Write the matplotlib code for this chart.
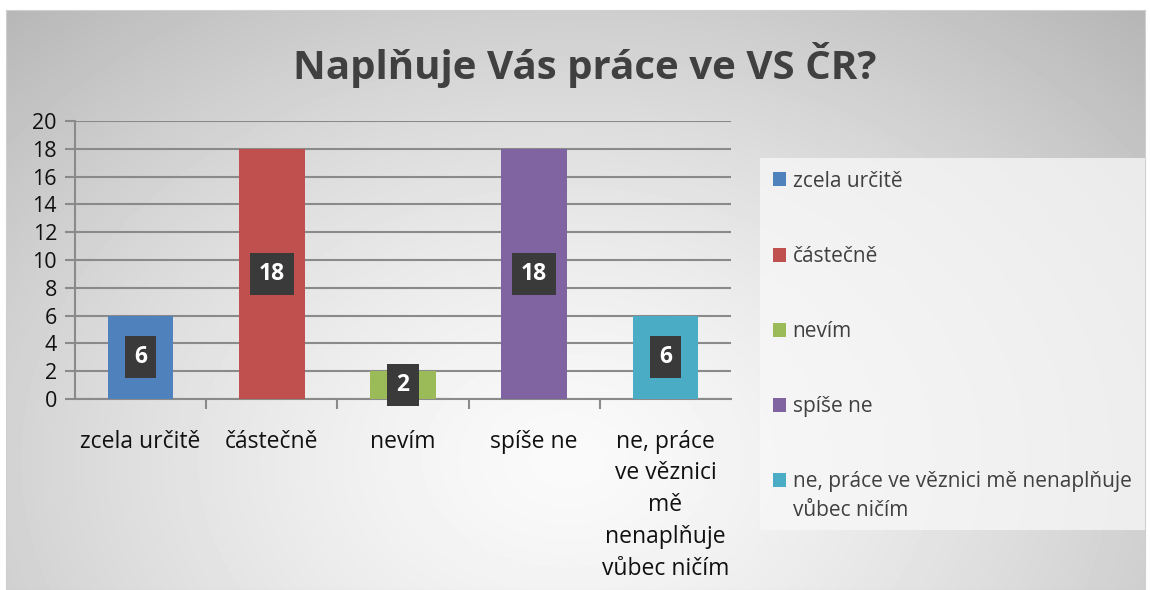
import matplotlib.pyplot as plt
import numpy as np
from matplotlib.patches import Rectangle

plt.rcParams['font.family'] = ['Open Sans', 'DejaVu Sans']

# data
categories = ["zcela určitě", "částečně", "nevím", "spíše ne",
              "ne, práce ve věznici mě nenaplňuje vůbec ničím"]
tick_labels = ["zcela určitě", "částečně", "nevím", "spíše ne",
               "ne, práce\nve věznici\nmě\nnenaplňuje\nvůbec ničím"]
legend_labels = ["zcela určitě", "částečně", "nevím", "spíše ne",
                 "ne, práce ve věznici mě nenaplňuje"]
legend_wrap = "vůbec ničím"  # second line of the last legend entry
values = [6, 18, 2, 18, 6]
colors = ["#4f81bd", "#c0504d", "#9bbb59", "#8064a2", "#4bacc6"]

W, H = 1150, 590
fig = plt.figure(figsize=(W / 100, H / 100), dpi=100, facecolor="white")

# gradient background of chart area
bg = fig.add_axes([6 / W, 0, 1139 / W, 580 / H], zorder=-2)
yy, xx = np.mgrid[0:580, 0:1139]
d = np.sqrt(((xx - 560) / 700) ** 2 + ((yy - 450) / 520) ** 2)
shade = np.clip(0.98 - 0.21 * d ** 1.4, 0, 1)
bg.imshow(shade, cmap="gray", vmin=0, vmax=1, aspect="auto")
bg.set_xticks([])
bg.set_yticks([])
for s in bg.spines.values():
    s.set_color("#d0d0d0")

ax = fig.add_axes([75 / W, 191 / H, 656 / W, 278 / H])
ax.set_facecolor("none")
x = np.arange(len(values))
bars = ax.bar(x, values, width=0.5, color=colors, zorder=3)

ax.set_xlim(-0.5, len(values) - 0.5)
ax.set_ylim(0, 20)
ax.set_yticks(range(0, 21, 2))
ax.yaxis.grid(True, color="#8a8a8a", linewidth=1.5, zorder=0)
ax.set_xticks(x)
ax.set_xticklabels(tick_labels, fontsize=16.5, color="#111111", linespacing=1.43)
ax.set_xticks(np.arange(0.5, len(values) - 0.5, 1), minor=True)
ax.tick_params(axis="x", which="major", length=0, pad=22)
ax.tick_params(axis="x", which="minor", length=7, color="#8a8a8a", width=1.5)
ax.tick_params(axis="y", length=7, color="#8a8a8a", width=1.5, labelsize=15.5,
               labelcolor="#111111", pad=6)
for side in ["top", "right"]:
    ax.spines[side].set_visible(False)
for side in ["left", "bottom"]:
    ax.spines[side].set_color("#8a8a8a")
    ax.spines[side].set_linewidth(1.5)

# data labels
for xi, v in zip(x, values):
    ax.text(xi, v / 2, str(v), ha="center", va="center", color="white",
            fontsize=16.5, fontweight="bold", zorder=5,
            bbox=dict(boxstyle="square,pad=0.4", fc="#3a3a3a", ec="none"))

fig.text(585 / W, 1 - 65 / H, "Naplňuje Vás práce ve VS ČR?", ha="center",
         va="center", fontsize=29, fontweight="bold", color="#404040")

# legend box
fig.patches.append(Rectangle((760 / W, 1 - 530 / H), 385 / W, 372 / H,
                             transform=fig.transFigure, fc="#f8f8f8",
                             alpha=0.75, ec="none", zorder=-1))
leg = fig.legend(bars, legend_labels, loc="upper left",
                 bbox_to_anchor=(754 / W, 1 - 152 / H), frameon=False,
                 fontsize=15, labelcolor="#404040", handlelength=0.65,
                 handleheight=0.65, handletextpad=0.3, labelspacing=2.6)

fig.canvas.draw()
last = leg.get_texts()[-1].get_window_extent()
fig.text(last.x0 / W, (last.y0 - 29) / H, legend_wrap, fontsize=15,
         color="#404040", ha="left", va="bottom")

fig.savefig("out.png", dpi=100, facecolor="white")
